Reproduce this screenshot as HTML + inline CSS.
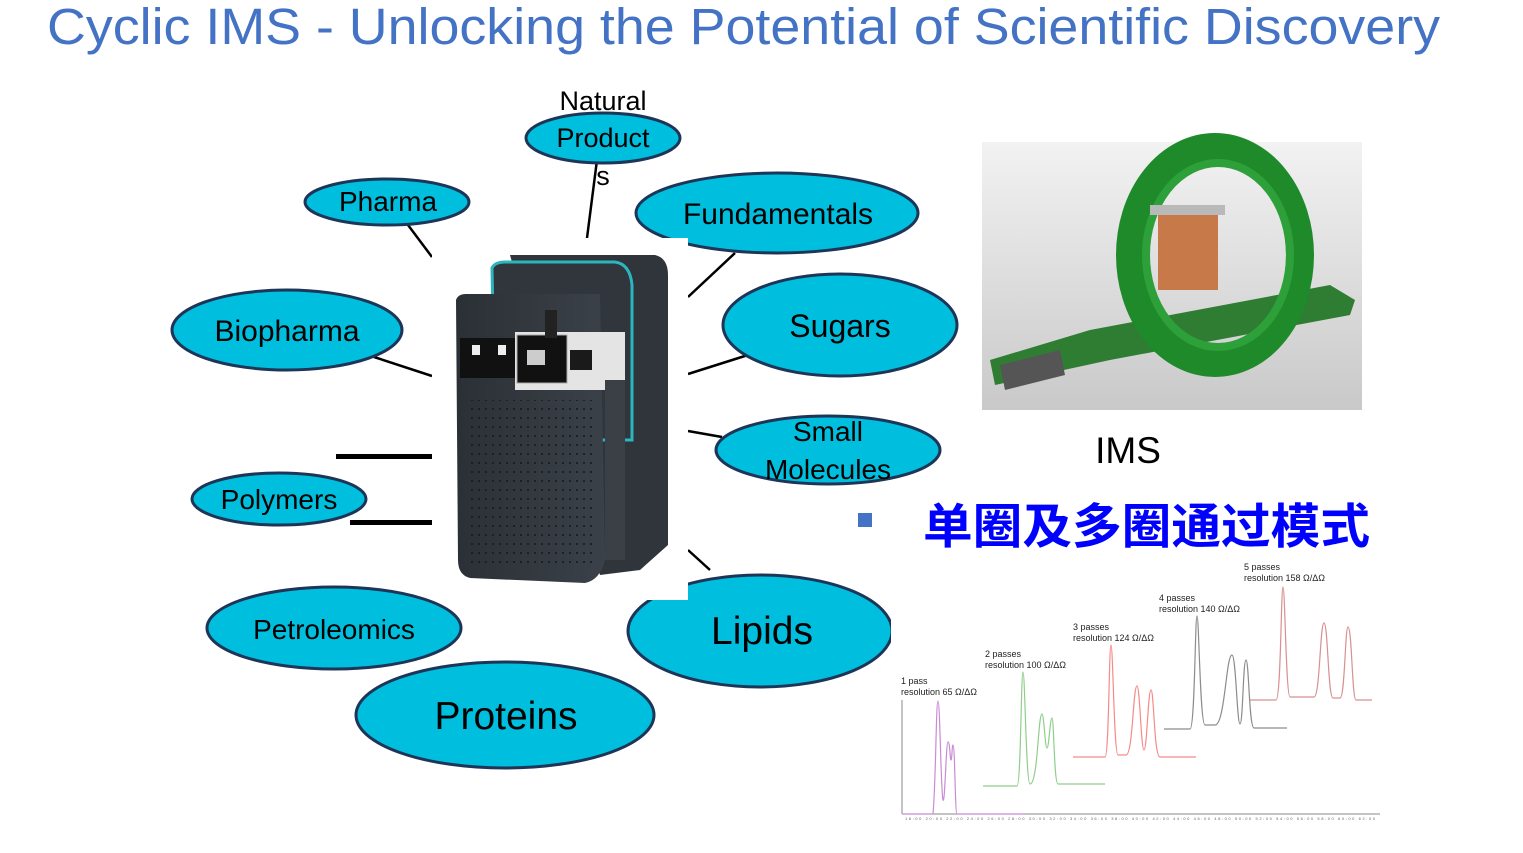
<!DOCTYPE html>
<html><head><meta charset="utf-8"><style>
html,body{margin:0;padding:0;background:#fff;}
svg{display:block;font-family:"Liberation Sans","Noto Sans CJK SC",sans-serif;}
</style></head><body>
<svg width="1523" height="853" viewBox="0 0 1523 853" xmlns="http://www.w3.org/2000/svg">
<defs>
<linearGradient id="bg" x1="0" y1="0" x2="0" y2="1"><stop offset="0" stop-color="#f2f2f2"/><stop offset="1" stop-color="#c9c9c9"/></linearGradient>
<linearGradient id="dev" x1="0" y1="0" x2="1" y2="0"><stop offset="0" stop-color="#2b3036"/><stop offset="1" stop-color="#3b4148"/></linearGradient>
<pattern id="dots" width="7" height="9" patternUnits="userSpaceOnUse"><circle cx="3" cy="4" r="1" fill="#15181b"/></pattern>
</defs>
<text x="47" y="44" font-size="51" fill="#4472C4" textLength="1393" lengthAdjust="spacingAndGlyphs">Cyclic IMS - Unlocking the Potential of Scientific Discovery</text>

<!-- connectors -->
<g stroke="#000" stroke-width="2.5" fill="none">
<line x1="408" y1="225" x2="432" y2="257"/>
<line x1="597" y1="160" x2="587" y2="238"/>
<line x1="735" y1="253" x2="688" y2="297"/>
<line x1="374" y1="357" x2="432" y2="376"/>
<line x1="748" y1="355" x2="688" y2="374"/>
<line x1="688" y1="431" x2="722" y2="437"/>
<line x1="688" y1="550" x2="710" y2="570"/>
</g>
<rect x="336" y="454" width="97" height="5" fill="#000"/>
<rect x="350" y="520" width="83" height="5" fill="#000"/>

<!-- ellipses -->
<g fill="#00BEDE" stroke="#1d3557" stroke-width="3">
<ellipse cx="603" cy="138" rx="77" ry="25"/>
<ellipse cx="387" cy="202" rx="82" ry="23"/>
<ellipse cx="777" cy="213" rx="141" ry="40"/>
<ellipse cx="287" cy="330" rx="115" ry="40"/>
<ellipse cx="840" cy="325" rx="117" ry="51"/>
<ellipse cx="828" cy="450" rx="112" ry="34"/>
<ellipse cx="279" cy="499" rx="87" ry="26"/>
<ellipse cx="334" cy="628" rx="127" ry="41"/>
<ellipse cx="760" cy="631" rx="132" ry="56"/>
<ellipse cx="505" cy="715" rx="149" ry="53"/>
</g>
<rect x="891" y="560" width="40" height="140" fill="#fff"/>
<g fill="#000" text-anchor="middle">
<text x="603" y="110" font-size="27">Natural</text>
<text x="603" y="147" font-size="27">Product</text>
<text x="603" y="185" font-size="27">s</text>
<text x="388" y="211" font-size="28">Pharma</text>
<text x="778" y="224" font-size="30">Fundamentals</text>
<text x="287" y="341" font-size="30">Biopharma</text>
<text x="840" y="337" font-size="32">Sugars</text>
<text x="828" y="441" font-size="28">Small</text>
<text x="828" y="479" font-size="28">Molecules</text>
<text x="279" y="509" font-size="28">Polymers</text>
<text x="334" y="639" font-size="28">Petroleomics</text>
<text x="762" y="644" font-size="39">Lipids</text>
<text x="506" y="729" font-size="39">Proteins</text>
</g>

<!-- instrument -->
<rect x="432" y="238" width="256" height="362" fill="#fff"/>
<path d="M510 255 L655 255 Q668 258 668 275 L668 545 L640 570 L600 575 Z" fill="#2f353b"/>
<path d="M492 268 Q495 262 505 262 L615 262 Q630 264 632 285 L632 440 L515 440 L495 415 Z" fill="#30363c" stroke="#2bb5bf" stroke-width="3"/>
<path d="M456 300 Q458 294 466 294 L600 294 L605 560 Q600 580 585 583 L470 578 Q458 575 458 560 Z" fill="url(#dev)"/>
<rect x="466" y="400" width="130" height="170" fill="url(#dots)"/>
<rect x="460" y="338" width="55" height="40" fill="#111"/>
<rect x="472" y="345" width="8" height="10" fill="#eee"/><rect x="498" y="345" width="8" height="10" fill="#eee"/>
<rect x="515" y="332" width="110" height="58" fill="#e4e4e4"/>
<rect x="517" y="335" width="50" height="48" fill="#111" stroke="#aaa"/>
<rect x="527" y="350" width="18" height="15" fill="#ccc"/>
<rect x="570" y="350" width="22" height="20" fill="#1a1a1a"/>
<rect x="545" y="310" width="12" height="28" fill="#222"/>
<rect x="605" y="380" width="20" height="180" fill="#3a4046"/>

<!-- IMS image -->
<rect x="982" y="142" width="380" height="268" fill="url(#bg)"/>
<path d="M990 360 L1090 330 L1330 285 L1355 300 L1350 315 L1110 360 L995 385 Z" fill="#2e7d32"/>
<ellipse cx="1215" cy="255" rx="85" ry="108" fill="none" stroke="#1f8a2a" stroke-width="28"/>
<ellipse cx="1218" cy="255" rx="72" ry="92" fill="none" stroke="#2ea03a" stroke-width="8"/>
<rect x="1158" y="210" width="60" height="80" fill="#c8794a"/>
<rect x="1150" y="205" width="75" height="10" fill="#b9b9b9"/>
<path d="M1000 365 L1060 350 L1065 375 L1005 390 Z" fill="#555"/>

<text x="1128" y="463" font-size="37" text-anchor="middle" fill="#000">IMS</text>
<rect x="858" y="513" width="14" height="14" fill="#4472C4"/>
<text x="923" y="543" font-size="48" font-weight="bold" fill="#0000FF" font-family="'Noto Sans CJK SC',sans-serif" textLength="447" lengthAdjust="spacingAndGlyphs">单圈及多圈通过模式</text>

<!-- chart -->
<g font-size="9" fill="#222">
<text x="901" y="684">1 pass</text><text x="901" y="695">resolution 65 Ω/ΔΩ</text>
<text x="985" y="657">2 passes</text><text x="985" y="668">resolution 100 Ω/ΔΩ</text>
<text x="1073" y="630">3 passes</text><text x="1073" y="641">resolution 124 Ω/ΔΩ</text>
<text x="1159" y="601">4 passes</text><text x="1159" y="612">resolution 140 Ω/ΔΩ</text>
<text x="1244" y="570">5 passes</text><text x="1244" y="581">resolution 158 Ω/ΔΩ</text>
</g>
<g stroke="#888" stroke-width="1" fill="none">
<line x1="902" y1="700" x2="902" y2="814"/><line x1="902" y1="814" x2="1380" y2="814"/>
</g>
<g fill="none" stroke-width="1.2">
<path d="M902 814 L933 814 C936 780 936 701 938 701 C940 701 941 795 943 800 C945 805 946 742 948 742 C950 742 950 760 951 760 C952 760 952 745 953 745 C955 745 955 814 957 814 L1024 814" stroke="#c98bd6"/>
<path d="M983 786 L1017 786 C1021 786 1021 672 1023 672 C1025 672 1026 784 1030 784 C1038 784 1038 714 1042 714 C1044 714 1045 748 1047 748 C1049 748 1050 718 1052 718 C1054 718 1054 784 1058 784 L1105 784" stroke="#8fcf8a"/>
<path d="M1073 757 L1105 757 C1109 757 1109 645 1111 645 C1113 645 1114 755 1118 755 L1126 755 C1133 755 1133 686 1137 686 C1140 686 1141 750 1144 750 C1147 750 1148 690 1151 690 C1154 690 1154 757 1160 757 L1196 757" stroke="#f58a8a"/>
<path d="M1164 729 L1190 729 C1195 729 1195 616 1197 616 C1199 616 1200 725 1205 725 L1215 725 C1225 725 1226 655 1232 655 C1236 655 1237 724 1240 724 C1243 724 1243 660 1246 660 C1249 660 1249 728 1254 728 L1287 728" stroke="#8c8c8c"/>
<path d="M1250 700 L1276 700 C1281 700 1281 587 1283 587 C1285 587 1286 697 1290 697 L1314 697 C1320 697 1320 623 1324 623 C1328 623 1328 698 1333 698 L1340 698 C1345 698 1345 627 1348 627 C1352 627 1352 700 1356 700 L1372 700" stroke="#d89090"/>
</g>
<g font-size="4" fill="#666">
<text x="905" y="820" textLength="470" lengthAdjust="spacing">18:00  20:00  22:00  24:00  26:00  28:00  30:00  32:00  34:00  36:00  38:00  40:00  42:00  44:00  46:00  48:00  50:00  52:00  54:00  56:00  58:00  60:00  62:00</text>
</g>
</svg>
</body></html>
